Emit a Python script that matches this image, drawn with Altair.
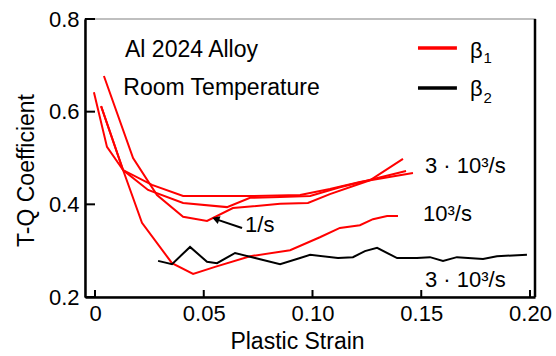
import altair as alt
import pandas as pd

# ---- data (plastic strain, T-Q coefficient) ----
# beta1, 3e3/s (upper)
a_x = [-0.0005, 0.0055, 0.0129, 0.0262, 0.0405, 0.0713, 0.0943, 0.1080, 0.1218, 0.1462]
a_y = [0.642, 0.524, 0.474, 0.442, 0.418, 0.418, 0.420, 0.433, 0.448, 0.4675]
# beta1, 3e3/s (second)
b_x = [0.0028, 0.0129, 0.0244, 0.0405, 0.0607, 0.0713, 0.0851, 0.0989, 0.1126, 0.1430]
b_y = [0.612, 0.474, 0.431, 0.403, 0.394, 0.414, 0.416, 0.418, 0.437, 0.472]
# beta1, 1/s
s_x = [0.0041, 0.0175, 0.0285, 0.0405, 0.0515, 0.0634, 0.0851, 0.0979, 0.1080, 0.1264, 0.1416]
s_y = [0.677, 0.500, 0.420, 0.373, 0.364, 0.392, 0.401, 0.403, 0.422, 0.452, 0.498]
# beta1, 1e3/s
k_x = [0.0028, 0.0129, 0.0216, 0.0354, 0.0451, 0.0552, 0.0713, 0.0897, 0.1034, 0.1126, 0.1218, 0.1278, 0.1343, 0.1393]
k_y = [0.612, 0.474, 0.360, 0.273, 0.250, 0.265, 0.288, 0.301, 0.329, 0.349, 0.355, 0.368, 0.375, 0.375]
# beta2, 3e3/s
g_x = [0.029, 0.0354, 0.0437, 0.0515, 0.0561, 0.0644, 0.0736, 0.0851, 0.0943, 0.0989, 0.1117,
       0.1186, 0.1241, 0.1297, 0.1389, 0.148, 0.154, 0.160, 0.1664, 0.1784, 0.1848, 0.1986]
g_y = [0.278, 0.271, 0.308, 0.276, 0.273, 0.295, 0.284, 0.271, 0.284, 0.291, 0.284,
       0.286, 0.299, 0.306, 0.284, 0.284, 0.286, 0.278, 0.286, 0.282, 0.288, 0.291]

x_ticks = [0, 0.05, 0.10, 0.15, 0.20]
y_ticks = [0.2, 0.4, 0.6, 0.8]
groups = ["β1", "β2"]

rows = []
for name, grp, xs, ys in [("a", "β1", a_x, a_y), ("b", "β1", b_x, b_y), ("s", "β1", s_x, s_y),
                          ("k", "β1", k_x, k_y), ("g", "β2", g_x, g_y)]:
    for i, (x, y) in enumerate(zip(xs, ys)):
        rows.append({"curve": name, "group": grp, "i": i, "x": x, "y": y})
df = pd.DataFrame(rows)

W, H = 450, 278
FONT = "Liberation Sans"
xscale = alt.Scale(domain=[-0.0046, 0.2023], nice=False, zero=False)
yscale = alt.Scale(domain=[0.2, 0.8], nice=False, zero=False)

lines = alt.Chart(df).mark_line(strokeWidth=2, clip=True).encode(
    x=alt.X("x:Q", scale=xscale, axis=alt.Axis(
        values=x_ticks, title="Plastic Strain", ticks=False, grid=False,
        labelExpr="datum.value == 0 ? '0' : format(datum.value, '.2f')",
        labelFontSize=22, labelPadding=6, labelColor="black", labelFlush=False,
        titleFontSize=23, titleFontWeight="normal", titleColor="black",
        titleX=212, titleY=51, titleBaseline="alphabetic", titleAlign="center",
        domainColor="black", domainWidth=2.5)),
    y=alt.Y("y:Q", scale=yscale, axis=alt.Axis(
        values=y_ticks, format=".1f", title="T-Q Coefficient", ticks=False, grid=False,
        labelFontSize=22, labelPadding=6, labelColor="black", labelFlush=False,
        titleFontSize=23, titleFontWeight="normal", titleColor="black",
        titleX=-52, titleY=151, titleAngle=-90, titleBaseline="alphabetic", titleAlign="center",
        domainColor="black", domainWidth=2.5)),
    color=alt.Color("group:N", scale=alt.Scale(domain=groups, range=["#ff0000", "#000000"]), legend=None),
    detail="curve:N",
    order="i:Q",
)

xt = alt.Chart(pd.DataFrame({"t": x_ticks})).mark_rule(color="black", strokeWidth=2).encode(
    x=alt.X("t:Q", axis=None), y=alt.value(H), y2=alt.value(H - 7))
yt = alt.Chart(pd.DataFrame({"t": y_ticks})).mark_rule(color="black", strokeWidth=2).encode(
    y=alt.Y("t:Q", axis=None), x=alt.value(0), x2=alt.value(10))
right = alt.Chart(pd.DataFrame({"t": [0]})).mark_rule(color="black", strokeWidth=2.5).encode(
    x=alt.value(W), y=alt.value(0), y2=alt.value(H))

base = alt.Chart(pd.DataFrame({"t": [0]}))


def X(v):
    return alt.X(datum=v, type="quantitative", axis=None)


def Y(v):
    return alt.Y(datum=v, type="quantitative", axis=None)


def txt(s, x, y, size=22, align="left", baseline="alphabetic"):
    return base.mark_text(text=s, font=FONT, fontSize=size, align=align, baseline=baseline,
                          color="black").encode(x=X(x), y=Y(y))


texts = [
    txt("Al 2024 Alloy", 0.0138, 0.7184, 23),
    txt("Room Temperature", 0.0130, 0.6358, 23),
    txt("3 · 10³/s", 0.1517, 0.468),
    txt("10³/s", 0.1508, 0.364),
    txt("3 · 10³/s", 0.1517, 0.2216),
    txt("1/s", 0.069, 0.340),
    txt("β", 0.1724, 0.7156),
    txt("1", 0.1786, 0.705, 15),
    txt("β", 0.1724, 0.6337),
    txt("2", 0.1786, 0.6186, 15),
]

leg_red = base.mark_rule(color="#ff0000", strokeWidth=3.5).encode(
    x=X(0.1485), x2=alt.X2(datum=0.1664), y=Y(0.7372))
leg_blk = base.mark_rule(color="black", strokeWidth=3.5).encode(
    x=X(0.1485), x2=alt.X2(datum=0.1664), y=Y(0.651))

arrow_line = base.mark_rule(color="black", strokeWidth=2).encode(
    x=X(0.0676), x2=alt.X2(datum=0.0565), y=Y(0.3489), y2=alt.Y2(datum=0.3665))
arrow_head = base.mark_point(shape="triangle-up", filled=True, size=70, angle=289,
                             color="black", opacity=1).encode(
    x=X(0.0555), y=Y(0.3685))

chart = alt.layer(lines, xt, yt, right, leg_red, leg_blk, arrow_line, arrow_head, *texts).resolve_axis(
    x="independent", y="independent"
).properties(
    width=W, height=H,
    autosize=alt.AutoSizeParams(type="none"),
    padding={"left": 85, "top": 19, "right": 21, "bottom": 59},
).configure(font=FONT).configure_view(stroke="#aaaaaa", strokeWidth=1.5)

chart.save("out.html", embed_options={"renderer": "svg", "actions": False})
